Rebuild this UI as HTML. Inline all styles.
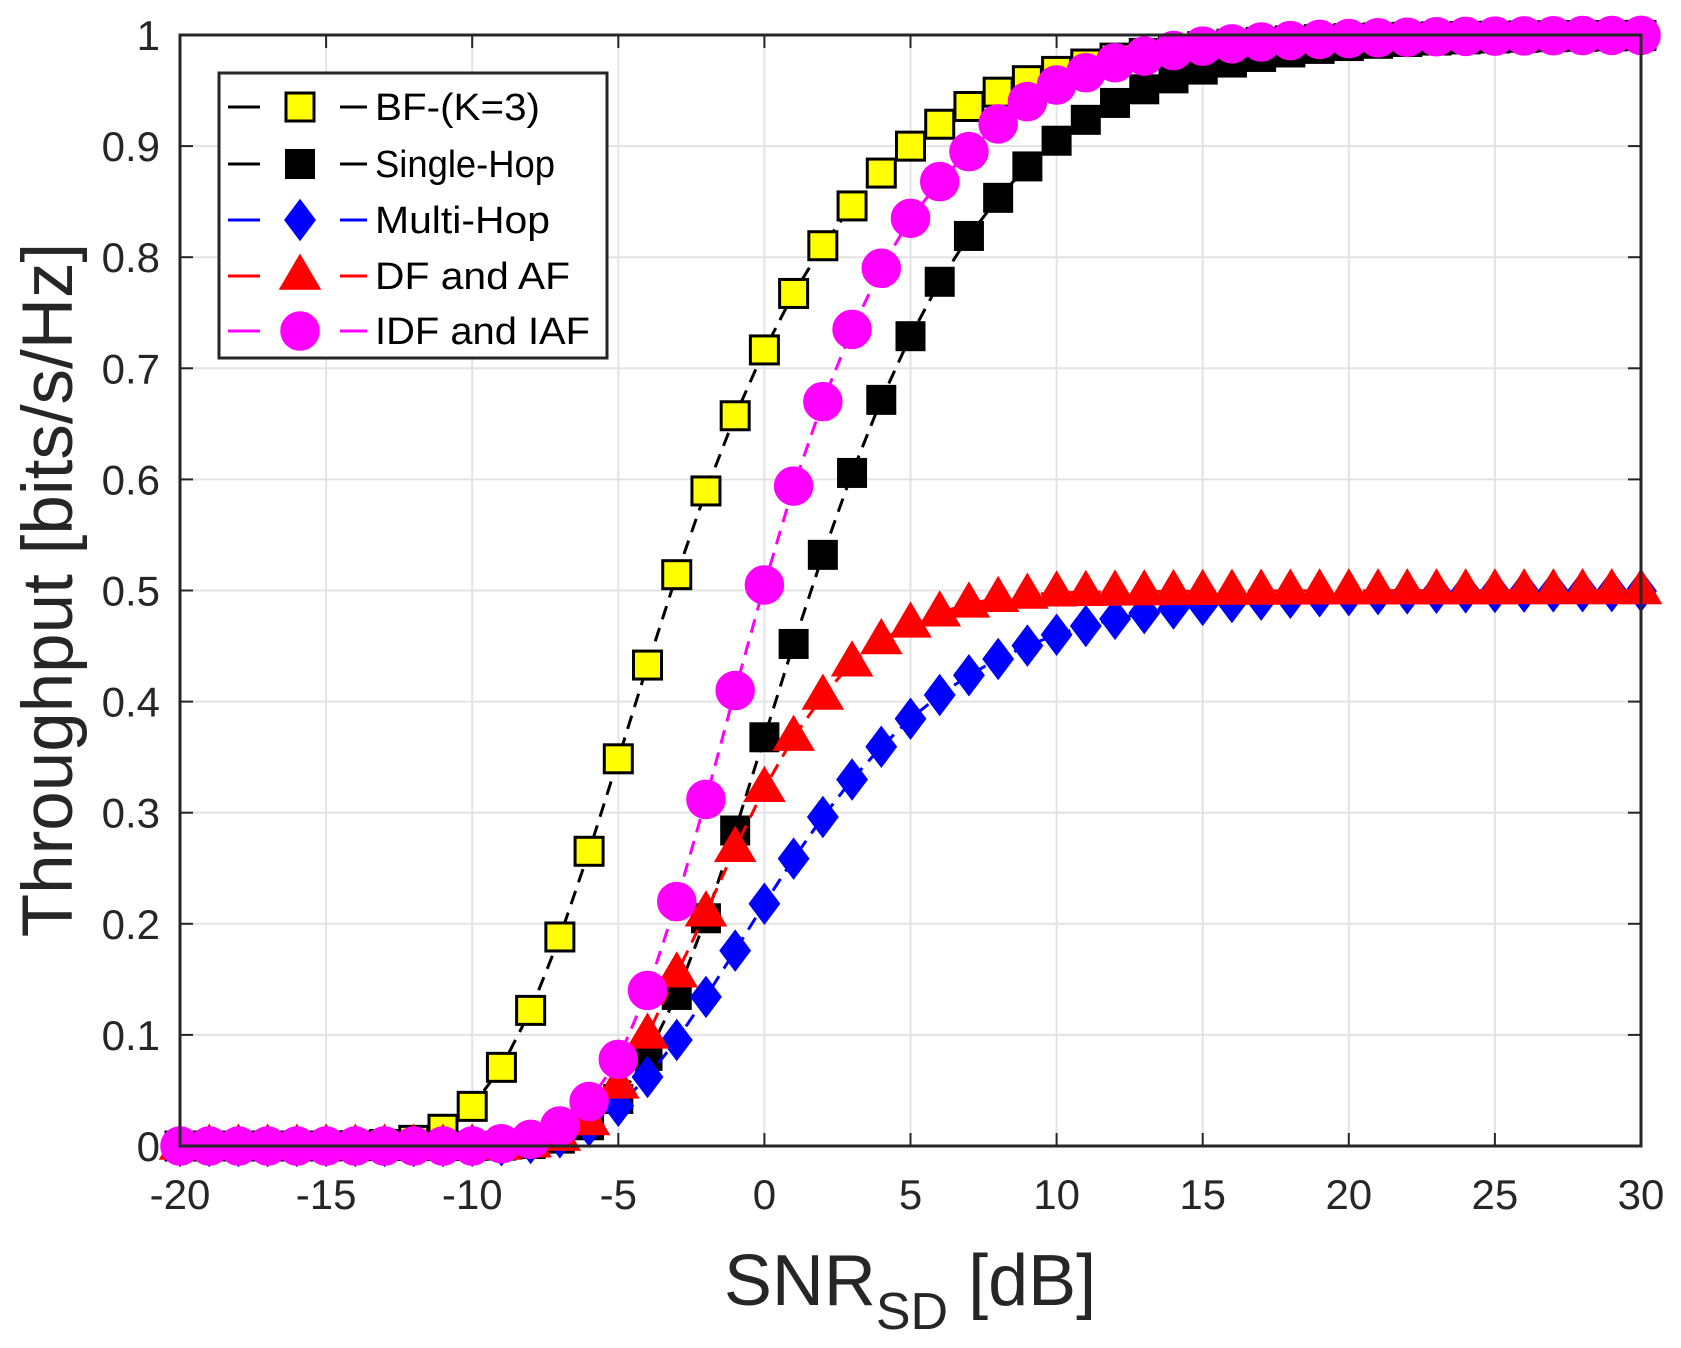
<!DOCTYPE html>
<html><head><meta charset="utf-8"><style>
html,body{margin:0;padding:0;background:#fff;}
svg{display:block;font-family:"Liberation Sans",sans-serif;}
</style></head><body>
<svg id="s" width="1681" height="1348" xmlns="http://www.w3.org/2000/svg"></svg>
<script>
const L=180,R=1641,T=35,B=1146;
const X=v=>L+(v+20)/50*(R-L), Y=v=>B-v*(B-T);
let o='<rect width="1681" height="1348" fill="#fff"/>';
for(let x=-20;x<=30;x+=5){o+=`<line x1="${X(x)}" y1="${T}" x2="${X(x)}" y2="${B}" stroke="#e3e3e3" stroke-width="2"/>`;}
for(let i=0;i<=10;i++){o+=`<line x1="${L}" y1="${Y(i/10)}" x2="${R}" y2="${Y(i/10)}" stroke="#e3e3e3" stroke-width="2"/>`;}
for(let x=-20;x<=30;x+=5){o+=`<line x1="${X(x)}" y1="${B}" x2="${X(x)}" y2="${B-13}" stroke="#262626" stroke-width="2"/><line x1="${X(x)}" y1="${T}" x2="${X(x)}" y2="${T+13}" stroke="#262626" stroke-width="2"/>`;
o+=`<text x="${X(x)}" y="1209" font-size="42" fill="#262626" text-anchor="middle">${x}</text>`;}
for(let i=0;i<=10;i++){const v=i/10;o+=`<line x1="${L}" y1="${Y(v)}" x2="${L+13}" y2="${Y(v)}" stroke="#262626" stroke-width="2"/><line x1="${R}" y1="${Y(v)}" x2="${R-13}" y2="${Y(v)}" stroke="#262626" stroke-width="2"/>`;
o+=`<text x="160" y="${Y(v)+15}" font-size="42" fill="#262626" text-anchor="end">${i==0?'0':i==10?'1':(v.toFixed(1))}</text>`;}
o+=`<text transform="translate(72,590) rotate(-90)" font-size="71" fill="#262626" text-anchor="middle">Throughput [bits/s/Hz]</text>`;
o+=`<text x="910" y="1305" font-size="72" fill="#262626" text-anchor="middle">SNR<tspan font-size="52" dy="24">SD</tspan><tspan dy="-24"> [dB]</tspan></text>`;
const xs=[];for(let x=-20;x<=30;x++)xs.push(x);
const s=x=>Math.pow(10,x/10);
const bf=xs.map(x=>Math.exp(-1/(3*s(x))));
const sh=xs.map(x=>Math.exp(-1/s(x)));
const mh=xs.map(x=>0.5*Math.exp(-0.83/s(x)));
const dfT={'-8':0.002,'-7':0.008,'-6':0.022,'-5':0.055,'-4':0.1,'-3':0.155,'-2':0.21,'-1':0.268,'0':0.322,'1':0.368,'2':0.405,'3':0.435,'4':0.455,'5':0.47,'6':0.48,'7':0.488,'8':0.493,'9':0.496,'10':0.498};
const df=xs.map(x=>x<-8?0:(x>10?0.5-0.002*Math.pow(10,-(x-10)/10):dfT[x]));
const idT={'-9':0.002,'-8':0.006,'-7':0.018,'-6':0.04,'-5':0.078,'-4':0.14,'-3':0.22,'-2':0.312,'-1':0.41,'0':0.505,'1':0.594,'2':0.67,'3':0.735,'4':0.79,'5':0.835,'6':0.868,'7':0.895,'8':0.92,'9':0.94,'10':0.955,'11':0.966,'12':0.975,'13':0.981,'14':0.986,'15':0.99};
const id=xs.map(x=>x<-9?0:(x>15?1-0.01*Math.pow(10,-(x-15)/10):idT[x]));
function line(d,c){return `<polyline fill="none" stroke="${c}" stroke-width="3" stroke-dasharray="14,9" points="${xs.map((x,i)=>X(x)+','+Y(d[i])).join(' ')}"/>`;}
function mk(t,cx,cy){
 if(t=='sq')return `<rect x="${cx-14}" y="${cy-14}" width="28" height="28" fill="#ffff00" stroke="#000" stroke-width="3"/>`;
 if(t=='bs')return `<rect x="${cx-14}" y="${cy-14}" width="28" height="28" fill="#000" stroke="#000" stroke-width="2"/>`;
 if(t=='di')return `<polygon points="${cx},${cy-20} ${cx+15},${cy} ${cx},${cy+20} ${cx-15},${cy}" fill="#0000ff" stroke="#0000ff" stroke-width="1.5"/>`;
 if(t=='tr')return `<polygon points="${cx},${cy-21} ${cx+20},${cy+13} ${cx-20},${cy+13}" fill="#ff0000" stroke="#ff0000" stroke-width="1.5"/>`;
 return `<circle cx="${cx}" cy="${cy}" r="19" fill="#ff00ff" stroke="#ff00ff" stroke-width="1.5"/>`;
}
const ser=[[bf,'#000','sq'],[sh,'#000','bs'],[mh,'#0000ff','di'],[df,'#ff0000','tr'],[id,'#ff00ff','ci']];
for(const [d,c,t] of ser){o+=line(d,c);xs.forEach((x,i)=>{o+=mk(t,X(x),Y(d[i]));});}
o+=`<rect x="${L}" y="${T}" width="${R-L}" height="${B-T}" fill="none" stroke="#262626" stroke-width="3"/>`;
o+=`<rect x="219" y="73" width="388" height="285" fill="#fff" stroke="#262626" stroke-width="3"/>`;
const names=['BF-(K=3)','Single-Hop','Multi-Hop','DF and AF','IDF and IAF'];
const ys=[107,164,220,276,331];
ser.forEach(([d,c,t],k)=>{const y=ys[k];
 o+=`<line x1="228" y1="${y}" x2="260" y2="${y}" stroke="${c}" stroke-width="3"/><line x1="340" y1="${y}" x2="367" y2="${y}" stroke="${c}" stroke-width="3"/>`;
 o+=mk(t,300,y);
 o+=`<text x="375" y="${y+13}" font-size="38" fill="#000" textLength="${[165,180,175,195,215][k]}" lengthAdjust="spacingAndGlyphs">${names[k]}</text>`;});
document.getElementById('s').innerHTML=o;
</script>
</body></html>
